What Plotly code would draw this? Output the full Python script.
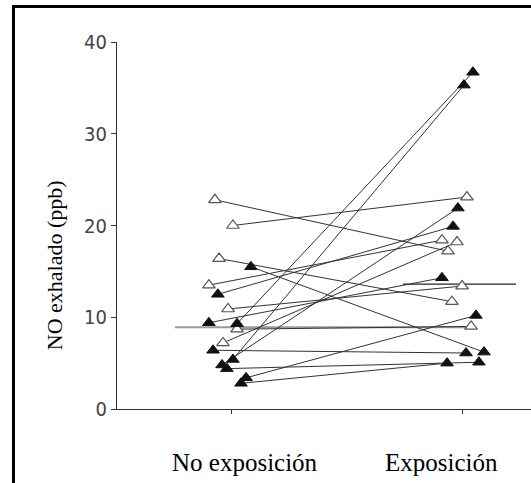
import plotly.graph_objects as go

# ---- data ----
categories = ["No exposición", "Exposición"]
no_exp = [22.8, 20.0, 16.4, 15.5, 13.5, 12.5, 10.9, 9.4, 9.3, 8.7, 7.2, 6.4, 5.4, 4.8, 4.4, 3.4, 2.8]
exp = [17.2, 23.1, 11.7, 6.2, 18.4, 19.9, 13.4, 14.3, 36.7, 9.0, 18.2, 6.1, 35.3, 21.9, 5.1, 10.2, 5.0]
filled = [False, False, False, True, False, True, False, True, True, False, False, True, True, True, True, True, True]
jitter_no = [-0.074, 0.004, -0.056, 0.082, -0.100, -0.061, -0.017, -0.100, 0.022, 0.022, -0.039, -0.082, 0.004, -0.043, -0.022, 0.061, 0.039]
jitter_exp = [-0.065, 0.017, -0.048, 0.091, -0.091, -0.043, -0.004, -0.091, 0.043, 0.035, -0.026, 0.013, 0.004, -0.022, 0.069, 0.056, -0.069]
median_no = 8.9
median_exp = 13.6
y_ticks = [0, 10, 20, 30, 40]

fig = go.Figure()

# median lines
fig.add_trace(go.Scatter(x=[-0.247, 1.03], y=[median_no, median_no], mode="lines",
                         line=dict(color="#9a9a9a", width=2), hoverinfo="skip", showlegend=False))
fig.add_trace(go.Scatter(x=[0.74, 1.23], y=[median_exp, median_exp], mode="lines",
                         line=dict(color="#222", width=1.3), hoverinfo="skip", showlegend=False))

# subject lines
for i in range(len(no_exp)):
    fig.add_trace(go.Scatter(x=[0 + jitter_no[i], 1 + jitter_exp[i]], y=[no_exp[i], exp[i]],
                             mode="lines", line=dict(color="#333", width=1),
                             hoverinfo="skip", showlegend=False))

# markers
xs, ys, fills = [], [], []
for i in range(len(no_exp)):
    xs += [0 + jitter_no[i], 1 + jitter_exp[i]]
    ys += [no_exp[i], exp[i]]
    fills += [filled[i], filled[i]]

fig.add_trace(go.Scatter(
    x=[x for x, f in zip(xs, fills) if not f], y=[y for y, f in zip(ys, fills) if not f],
    mode="markers", marker=dict(symbol="triangle-up", size=11, color="white",
                                line=dict(color="#555", width=1.2)), showlegend=False))
fig.add_trace(go.Scatter(
    x=[x for x, f in zip(xs, fills) if f], y=[y for y, f in zip(ys, fills) if f],
    mode="markers", marker=dict(symbol="triangle-up", size=11, color="#111",
                                line=dict(color="#111", width=1)), showlegend=False))

serif = "Liberation Serif, Times New Roman, serif"
fig.update_layout(
    width=531, height=483,
    margin=dict(l=117, r=0, t=42, b=74),
    paper_bgcolor="white", plot_bgcolor="white",
    xaxis=dict(range=[-0.4978, 1.2944], tickvals=[0, 1], ticktext=["", ""], ticks="outside",
               ticklen=4, tickcolor="#333", showline=True, linecolor="#333", linewidth=1,
               showgrid=False, zeroline=False, fixedrange=True),
    yaxis=dict(range=[0, 40], tickvals=y_ticks, ticks="outside", ticklen=5, tickcolor="#333",
               showline=True, linecolor="#333", linewidth=1, showgrid=False, zeroline=False,
               tickfont=dict(family="DejaVu Sans Condensed, Liberation Sans Narrow, Arial Narrow",
                             size=20, color="#444"), fixedrange=True),
    shapes=[dict(type="rect", xref="paper", yref="paper", x0=-0.25, x1=1.05, y0=-0.25, y1=1.0967,
                 line=dict(color="black", width=3), fillcolor="rgba(0,0,0,0)", layer="above")],
    annotations=[
        dict(text="NO exhalado (ppb)", xref="paper", yref="paper", x=-0.152, y=0.392,
             xanchor="center", yanchor="middle", textangle=-90, showarrow=False,
             font=dict(family=serif, size=22, color="black")),
        dict(text=categories[0], xref="paper", yref="paper", x=0.309, y=-0.147,
             xanchor="center", yanchor="middle", showarrow=False,
             font=dict(family=serif, size=25, color="black")),
        dict(text=categories[1], xref="paper", yref="paper", x=0.785, y=-0.147,
             xanchor="center", yanchor="middle", showarrow=False,
             font=dict(family=serif, size=25, color="black")),
    ],
)

fig.write_html("out.html")
